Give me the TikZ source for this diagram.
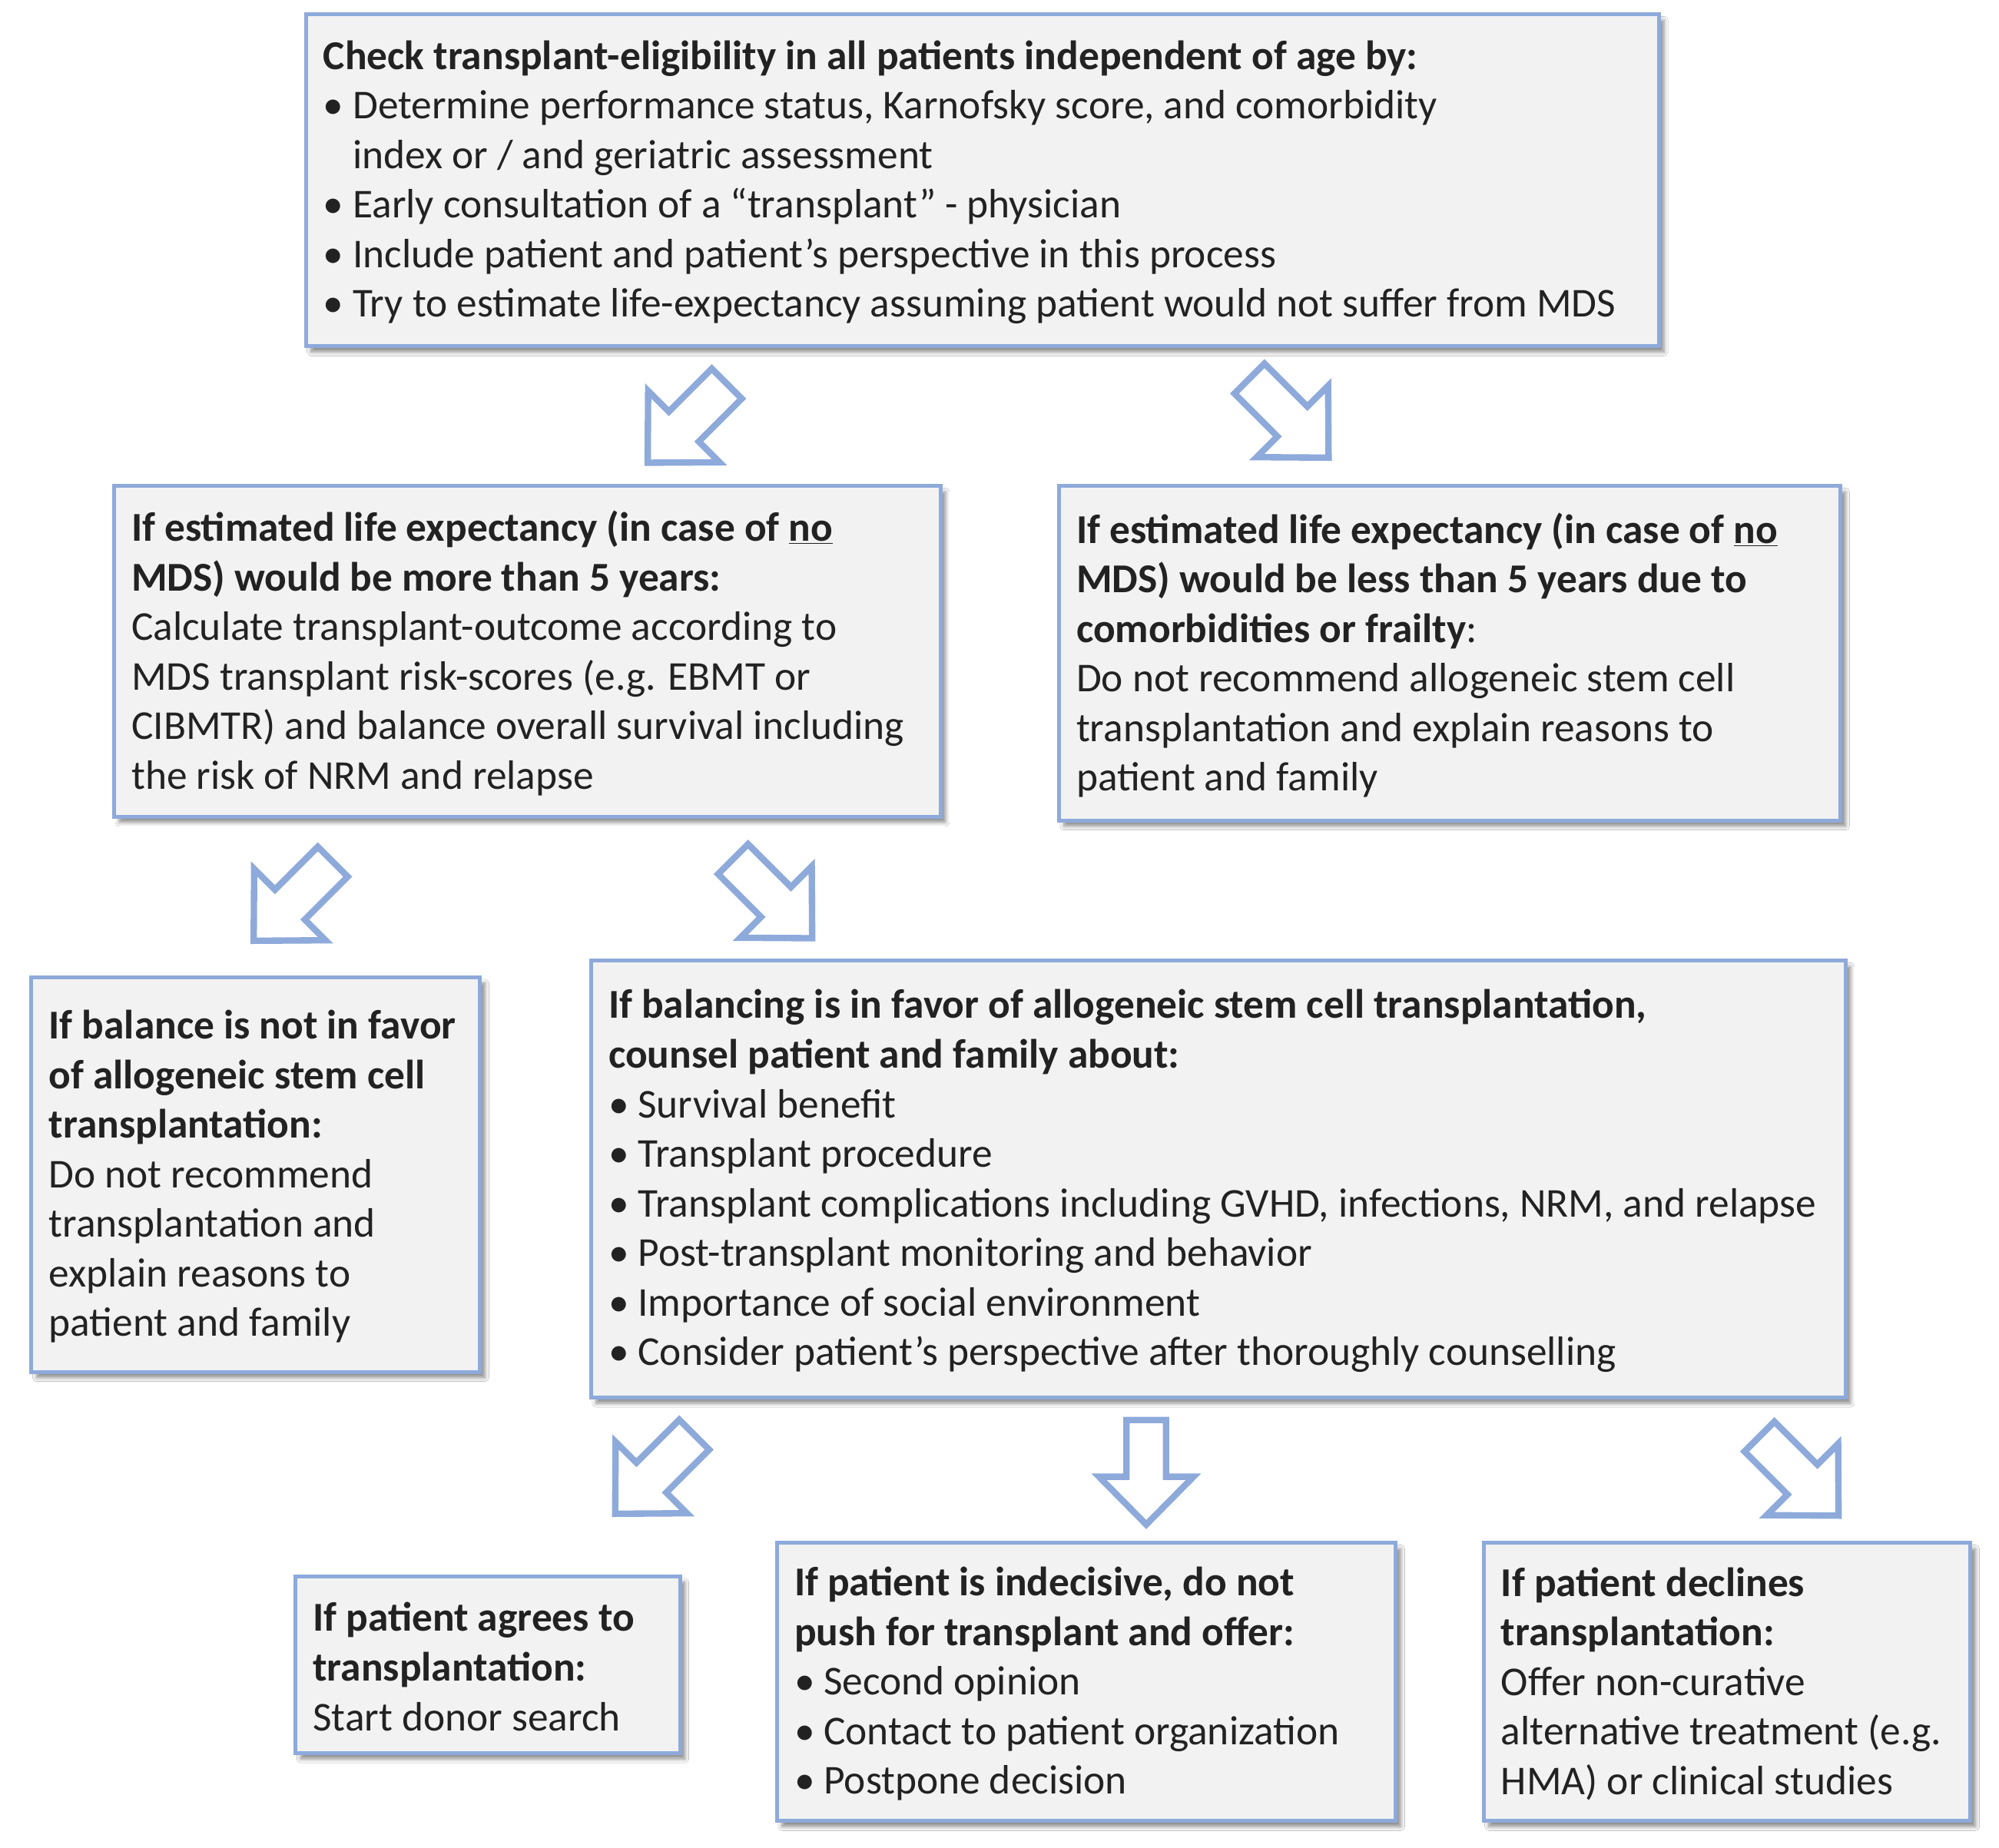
\documentclass[tikz,border=0pt]{standalone}
\usepackage{fontspec}
\setmainfont{Carlito}
\usetikzlibrary{shadows,shadows.blur}
\definecolor{bordblue}{HTML}{8EAADB}
\definecolor{boxfill}{HTML}{F2F2F2}
\definecolor{txtcol}{HTML}{222222}
\newcommand{\bul}{\makebox[23pt][l]{•}}
\newcommand{\hang}{\hspace*{23pt}}
\begin{document}
\begin{tikzpicture}[x=0.995pt,y=-0.995pt,
  box/.style={draw=bordblue, line width=3pt, fill=boxfill,
    blur shadow={shadow xshift=4pt, shadow yshift=-4.5pt, shadow blur steps=6,
      shadow blur radius=3pt, shadow opacity=45},
    inner sep=0pt},
  txt/.style={align=left, inner sep=0pt, text=txtcol,
    font=\fontsize{32}{38.7}\selectfont, anchor=west},
  barrow/.pic={\draw[draw=bordblue, line width=5pt, fill=white, line join=miter]
    (-41,-15.5) -- (3.5,-15.5) -- (3.5,-37) -- (41,0) -- (3.5,37) -- (3.5,15.5) -- (-41,15.5) -- cycle;},
  diag/.style={scale=1.07}
]
\useasboundingbox (0pt,0pt) rectangle (1560pt,-1441.9pt);
\fill[white] (0pt,0pt) rectangle (1560pt,-1441.9pt);

% boxes
\node[box, minimum width=1056pt, minimum height=259pt] (top) at (770.5,141.5) {};
\node[box, minimum width=645pt, minimum height=258pt] (ml) at (413.5,511) {};
\node[box, minimum width=610pt, minimum height=261pt] (mr) at (1137,512.5) {};
\node[box, minimum width=350pt, minimum height=308pt] (lb) at (200.5,921.5) {};
\node[box, minimum width=979pt, minimum height=341pt] (cb) at (955.5,925) {};
\node[box, minimum width=300pt, minimum height=138pt] (agr) at (382.5,1306) {};
\node[box, minimum width=483pt, minimum height=217pt] (ind) at (852,1319.5) {};
\node[box, minimum width=380pt, minimum height=217pt] (dec) at (1354.5,1319.5) {};

% texts
\node[txt] (topt) at ([xshift=15pt,yshift=-1.5pt]top.west) {%
\textbf{Check transplant-eligibility in all patients independent of age by:}\\
\bul Determine performance status, Karnofsky score, and comorbidity\\
\hang index or / and geriatric assessment\\
\bul Early consultation of a “transplant” - physician\\
\bul Include patient and patient’s perspective in this process\\
\bul Try to estimate life-expectancy assuming patient would not suffer from MDS};

\node[txt] (mlt) at ([xshift=15pt,yshift=-1.5pt]ml.west) {%
\textbf{If estimated life expectancy (in case of \underline{no}}\\
\textbf{MDS) would be more than 5 years:}\\
Calculate transplant-outcome according to\\
MDS transplant risk-scores (e.g. EBMT or\\
CIBMTR) and balance overall survival including\\
the risk of NRM and relapse};

\node[txt] (mrt) at ([xshift=15pt,yshift=-1.5pt]mr.west) {%
\textbf{If estimated life expectancy (in case of \underline{no}}\\
\textbf{MDS) would be less than 5 years due to}\\
\textbf{comorbidities or frailty}:\\
Do not recommend allogeneic stem cell\\
transplantation and explain reasons to\\
patient and family};

\node[txt] (lbt) at ([xshift=15pt,yshift=-1.5pt]lb.west) {%
\textbf{If balance is not in favor}\\
\textbf{of allogeneic stem cell}\\
\textbf{transplantation:}\\
Do not recommend\\
transplantation and\\
explain reasons to\\
patient and family};

\node[txt] (cbt) at ([xshift=15pt,yshift=-1.5pt]cb.west) {%
\textbf{If balancing is in favor of allogeneic stem cell transplantation,}\\
\textbf{counsel patient and family about:}\\
\bul Survival benefit\\
\bul Transplant procedure\\
\bul Transplant complications including GVHD, infections, NRM, and relapse\\
\bul Post-transplant monitoring and behavior\\
\bul Importance of social environment\\
\bul Consider patient’s perspective after thoroughly counselling};

\node[txt] (agrt) at ([xshift=15pt,yshift=-1.5pt]agr.west) {%
\textbf{If patient agrees to}\\
\textbf{transplantation:}\\
Start donor search};

\node[txt] (indt) at ([xshift=15pt,yshift=-1.5pt]ind.west) {%
\textbf{If patient is indecisive, do not}\\
\textbf{push for transplant and offer:}\\
\bul Second opinion\\
\bul Contact to patient organization\\
\bul Postpone decision};

\node[txt] (dect) at ([xshift=15pt,yshift=-1.5pt]dec.west) {%
\textbf{If patient declines}\\
\textbf{transplantation:}\\
Offer non-curative\\
alternative treatment (e.g.\\
HMA) or clinical studies};

% block arrows
\pic[diag, rotate=225] (a1) at (539,332) {barrow};
\pic[diag, rotate=315] (a2) at (1011,328) {barrow};
\pic[diag, rotate=225] (a3) at (230,707) {barrow};
\pic[diag, rotate=315] (a4) at (606,705) {barrow};
\pic[diag, rotate=225] (a5) at (513.5,1156.5) {barrow};
\pic[rotate=270] (a6) at (899,1155) {barrow};
\pic[diag, rotate=315] (a7) at (1411,1158) {barrow};
\end{tikzpicture}
\end{document}
